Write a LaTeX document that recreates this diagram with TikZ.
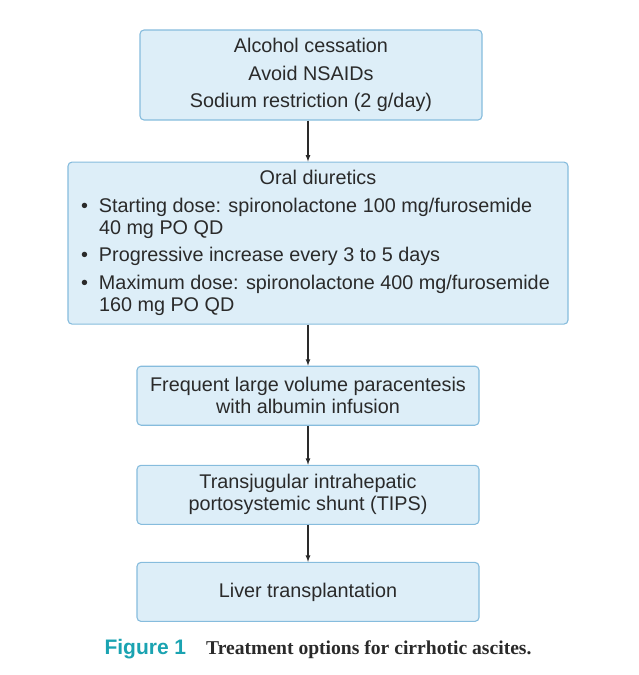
\documentclass[tikz,border=0pt]{standalone}
\usepackage{fontspec}
\setmainfont{Liberation Sans}
\newfontfamily\capserif{Liberation Serif}
\usepackage{tikz}
\usetikzlibrary{positioning}

\definecolor{boxfill}{HTML}{DDEEF8}
\definecolor{boxline}{HTML}{86BCDD}
\definecolor{inktext}{HTML}{2A2A2A}
\definecolor{figteal}{HTML}{1AA3B1}

\newcommand{\bitem}[1]{\hangindent=19pt\hangafter=1\noindent\makebox[19pt][l]{\hspace{1pt}\textbullet}#1\par}

\begin{document}
\begin{tikzpicture}[x=1pt,y=1pt,
			stepbox/.style={rectangle, rounded corners=4pt, draw=boxline, fill=boxfill, line width=1.1pt,
				text=inktext, align=center, font=\fontsize{19.8}{22}\selectfont, inner sep=0pt},
			flowarrow/.style={-latex, line width=1.2pt, draw=inktext},
			]
			\useasboundingbox (0,0) rectangle (639,-675);
			%Nodes
			\node[stepbox, minimum width=342pt, minimum height=90pt, font=\fontsize{19.8}{27.5}\selectfont,
				text depth=4pt] (lifestyle) at (311,-75) {Alcohol cessation\\Avoid NSAIDs\\Sodium restriction (2 g/day)};
			\node[stepbox, minimum width=500pt, minimum height=162pt, below=41pt of lifestyle, xshift=7pt]
				(diuretics) {\begin{minipage}{476pt}\fontsize{19.8}{22}\selectfont\parskip=5.5pt
					\centering Oral diuretics\par\raggedright
					\bitem{Starting dose: spironolactone 100 mg/furosemide\newline 40 mg PO QD}
					\bitem{Progressive increase every 3 to 5 days}
					\bitem{Maximum dose: spironolactone 400 mg/furosemide\newline 160 mg PO QD}
				\end{minipage}};
			\node[stepbox, minimum width=342pt, minimum height=59pt, below=41pt of diuretics, xshift=-10pt]
				(paracentesis) {Frequent large volume paracentesis\\with albumin infusion};
			\node[stepbox, minimum width=342pt, minimum height=59pt, below=39pt of paracentesis]
				(tips) {Transjugular intrahepatic\\portosystemic shunt (TIPS)};
			\node[stepbox, minimum width=342pt, minimum height=59pt, below=37pt of tips]
				(transplant) {Liver transplantation};
			\node[anchor=base, inner sep=0pt] (caption) at (318,-654)
				{\textcolor{figteal}{\fontsize{21}{24}\selectfont\bfseries Figure 1}\hspace{20pt}%
				{\capserif\fontsize{19.6}{22}\selectfont\bfseries\color{inktext} Treatment options for cirrhotic ascites.}};

			%Lines
			\draw[flowarrow] (lifestyle.south -| paracentesis.north) -- (paracentesis.north |- diuretics.north);
			\draw[flowarrow] (paracentesis.north |- diuretics.south) -- (paracentesis.north);
			\draw[flowarrow] (paracentesis) -- (tips);
			\draw[flowarrow] (tips) -- (transplant);
		\end{tikzpicture}
\end{document}
